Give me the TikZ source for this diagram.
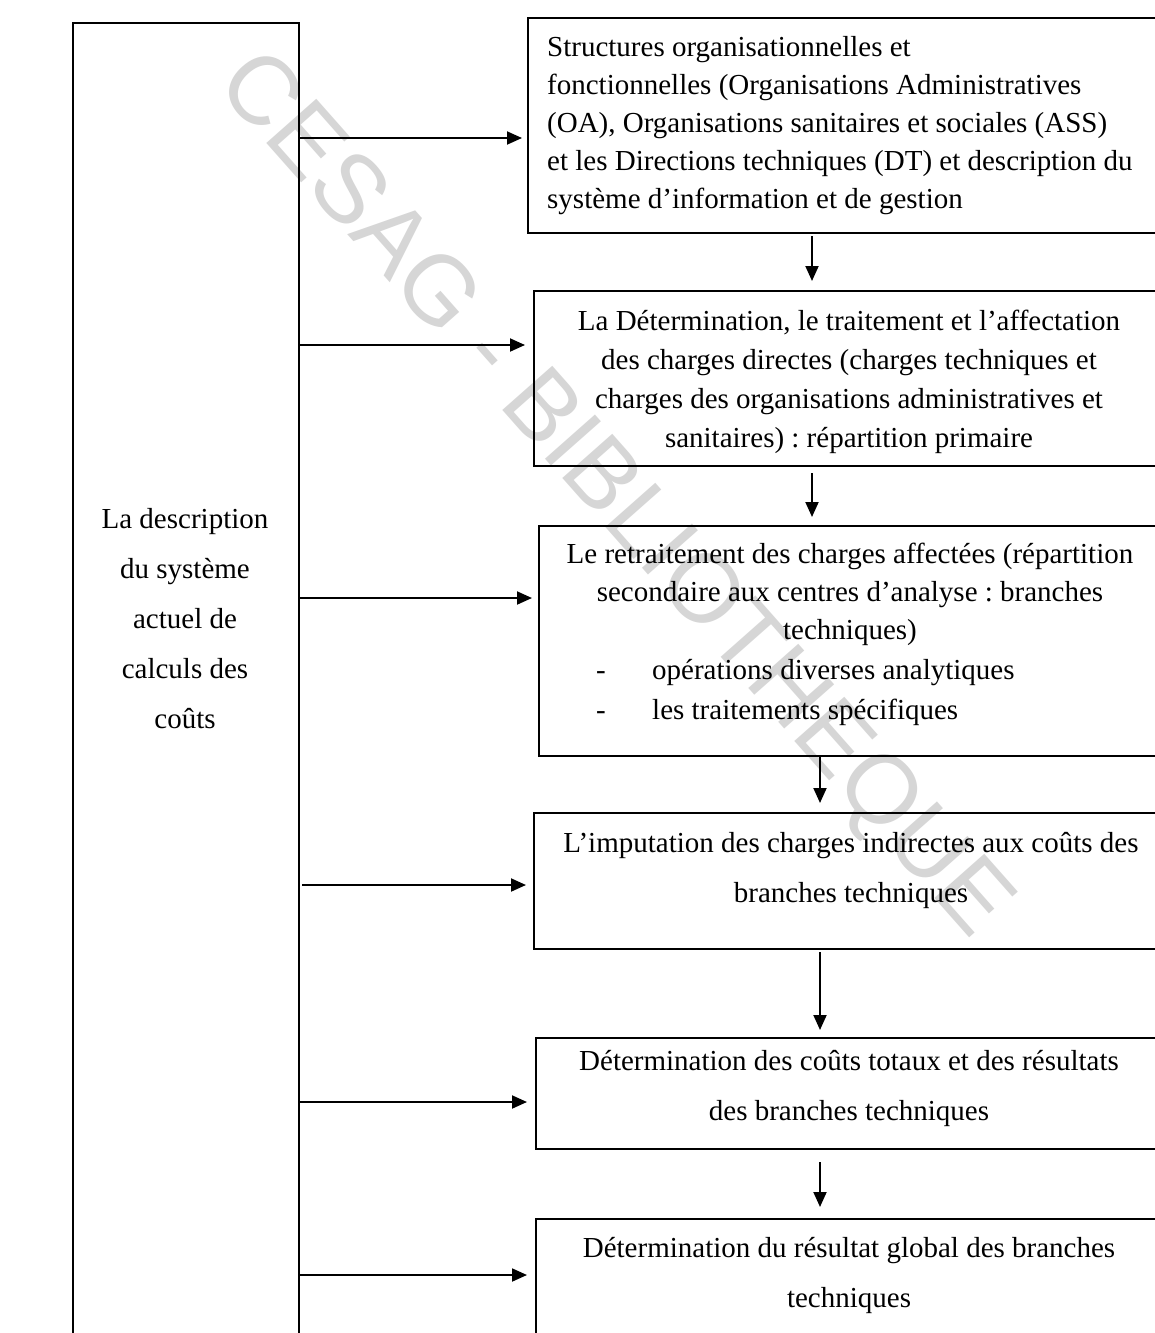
\documentclass[tikz,border=0pt]{standalone}
\usepackage{fontspec}
\setmainfont{Liberation Serif}
\newfontfamily\wmfont{Liberation Sans}
\usepackage{pdfrender}
\usetikzlibrary{arrows.meta}
\frenchspacing
\begin{document}
\frenchspacing
\begin{tikzpicture}[x=1pt,y=-1pt,
  frame/.style={draw, line width=1.7pt, inner sep=0pt, anchor=north west},
  arr/.style={line width=1.9pt, -{Triangle[length=15pt,width=13pt]}},
  txt/.style={inner sep=0pt, font=\fontsize{29}{38}\selectfont\frenchspacing},
  txtw/.style={inner sep=0pt, font=\fontsize{29}{50}\selectfont\frenchspacing},
]
\useasboundingbox (0,0) rectangle (1155,1333);
\fill[white] (0,0) rectangle (1155,1333);
\clip (0,0) rectangle (1155,1333);

% watermark
\node[rotate=-48.5, text=black!16, inner sep=0pt] (wm) at (612,497)
  {\wmfont\fontsize{97}{97}\selectfont\textpdfrender{TextRenderingMode=1,LineWidth=1}{CESAG - BIBLIOTHEQUE}};

% left box
\node[frame, minimum width=226pt, minimum height=1340pt] (L) at (72,22) {};
\node[txtw, align=center] (Lt) at (185,619)
  {La description\\du système\\actuel de\\calculs des\\coûts};

% right boxes
\node[frame, minimum width=640pt, minimum height=215pt] (b1) at (527,17) {};
\node[frame, minimum width=632pt, minimum height=175pt] (b2) at (533,290) {};
\node[frame, minimum width=627pt, minimum height=230pt] (b3) at (538,525) {};
\node[frame, minimum width=632pt, minimum height=136pt] (b4) at (533,812) {};
\node[frame, minimum width=630pt, minimum height=111pt] (b5) at (535,1037) {};
\node[frame, minimum width=630pt, minimum height=200pt] (b6) at (535,1218) {};

% texts
\node[txt, align=left, anchor=west] (t1) at (547,126)
  {Structures organisationnelles et\\fonctionnelles (Organisations Administratives\\(OA), Organisations sanitaires et sociales (ASS)\\et les Directions techniques (DT) et description du\\système d’information et de gestion};
\node[txt, align=center, font=\fontsize{29}{39}\selectfont\frenchspacing] (t2) at (849,382)
  {La Détermination, le traitement et l’affectation\\des charges directes (charges techniques et\\charges des organisations administratives et\\sanitaires) : répartition primaire};
\node[txt, align=center] (t3) at (850,594)
  {Le retraitement des charges affectées (répartition\\secondaire aux centres d’analyse : branches\\techniques)};
\node[txt, align=left, anchor=west, font=\fontsize{29}{40}\selectfont\frenchspacing] (t3b) at (596,692)
  {\makebox[56pt][l]{-}opérations diverses analytiques\\\makebox[56pt][l]{-}les traitements spécifiques};
\node[txtw, align=center] (t4) at (851,870)
  {L’imputation des charges indirectes aux coûts des\\branches techniques};
\node[txtw, align=center] (t5) at (849,1088)
  {Détermination des coûts totaux et des résultats\\des branches techniques};
\node[txtw, align=center] (t6) at (849,1275)
  {Détermination du résultat global des branches\\techniques};

% horizontal connectors
\coordinate (s1) at (298,138);
\coordinate (s2) at (298,345);
\coordinate (s3) at (298,598);
\coordinate (s4) at (302,885);
\coordinate (s5) at (298,1102);
\coordinate (s6) at (298,1275);
\draw[arr, shorten >=5pt] (s1) -- (s1 -| b1.west);
\draw[arr, shorten >=8pt] (s2) -- (s2 -| b2.west);
\draw[arr, shorten >=6pt] (s3) -- (s3 -| b3.west);
\draw[arr, shorten >=7pt] (s4) -- (s4 -| b4.west);
\draw[arr, shorten >=8pt] (s5) -- (s5 -| b5.west);
\draw[arr, shorten >=8pt] (s6) -- (s6 -| b6.west);

% vertical connectors
\coordinate (d1) at (812,236);
\coordinate (d2) at (812,473);
\coordinate (d3) at (820,757);
\coordinate (d4) at (820,952);
\coordinate (d5) at (820,1162);
\draw[arr, shorten >=9pt] (d1) -- (d1 |- b2.north);
\draw[arr, shorten >=8pt] (d2) -- (d2 |- b3.north);
\draw[arr, shorten >=9pt] (d3) -- (d3 |- b4.north);
\draw[arr, shorten >=7pt] (d4) -- (d4 |- b5.north);
\draw[arr, shorten >=11pt] (d5) -- (d5 |- b6.north);
\end{tikzpicture}
\end{document}
